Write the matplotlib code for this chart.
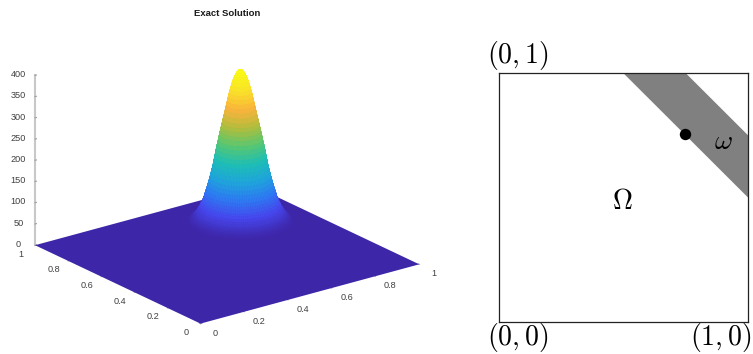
import numpy as np
import matplotlib
matplotlib.use('Agg')
import matplotlib.pyplot as plt
from matplotlib.colors import LinearSegmentedColormap
from matplotlib.patches import Polygon

W, H = 753, 354

# bump profile (distance from the peak, height)
PEAK_X = 0.75
PEAK_Y = 0.75
RADIUS = [0.0, 0.004, 0.008, 0.012, 0.016, 0.020, 0.024, 0.028, 0.032, 0.036, 0.040, 0.044, 0.047, 0.051,
          0.054, 0.058, 0.062, 0.066, 0.069, 0.073, 0.076, 0.080, 0.083, 0.087, 0.090, 0.093, 0.096, 0.099,
          0.102, 0.106, 0.110, 0.114, 0.118, 0.122, 0.126, 0.130, 0.133, 0.137, 0.141, 0.146, 0.150, 0.155,
          0.160, 0.165, 0.170, 0.175, 0.180, 0.185, 0.190]
HEIGHT = [355, 354, 353, 350, 346, 341, 335, 329, 321, 312, 303, 294, 284, 274,
          265, 254, 243, 233, 224, 214, 205, 194, 184, 174, 164, 154, 145, 135,
          126, 116, 106, 96, 87, 78, 70, 62, 55, 48, 42, 36, 30, 25,
          20, 16, 12, 9, 6, 3, 0]

TICKS_XY = [0, 0.2, 0.4, 0.6, 0.8, 1]
TICK_LABELS_XY = ['0', '0.2', '0.4', '0.6', '0.8', '1']
TICKS_Z = [0, 50, 100, 150, 200, 250, 300, 350, 400]

# parula colours, low to high
PARULA = ['#3e26a8', '#4748f0', '#2d7cf4', '#1ea8d9', '#1ec0b4', '#5cc86e',
          '#b4bd3c', '#fbb43c', '#f9e22a', '#f9fb15']

# right hand panel
BAND_X = [0.5, 0.75, 1, 1]
BAND_Y = [1, 1, 0.75, 0.5]
DOT_X = 0.747
DOT_Y = 0.755


def main():
    plt.rcParams['font.family'] = ['Liberation Sans', 'DejaVu Sans']
    plt.rcParams['mathtext.fontset'] = 'cm'
    fig = plt.figure(figsize=(W / 100, H / 100), dpi=100)
    parula = LinearSegmentedColormap.from_list('parula', PARULA)

    # ---------------- surface ----------------
    ax = fig.add_axes([-0.0578, -0.245, 0.70, 1.49], projection='3d')
    ax.set_proj_type('ortho')
    ax.view_init(elev=21, azim=-127.1)
    ax.set_box_aspect((1, 1, 0.663), zoom=0.789)
    ax.computed_zorder = False
    ax.patch.set_alpha(0)

    ax.plot_surface(np.array([[0, 1], [0, 1]]), np.array([[0, 0], [1, 1]]), np.zeros((2, 2)),
                    color=PARULA[0], shade=False, linewidth=0, zorder=1)

    theta = np.linspace(0, 2 * np.pi, 121)
    r, t = np.meshgrid(RADIUS, theta)
    z = np.tile(HEIGHT, (len(theta), 1))
    ax.plot_surface(PEAK_X + r * np.cos(t), PEAK_Y + r * np.sin(t), z, facecolors=parula(z / 355),
                    rstride=1, cstride=1, shade=False, linewidth=0.3, zorder=2)

    ax.set_xlim(0, 1)
    ax.set_ylim(0, 1)
    ax.set_zlim(0, 400)
    ax.set_xticks(TICKS_XY)
    ax.set_yticks(TICKS_XY)
    ax.set_zticks(TICKS_Z)
    ax.grid(False)
    for axis in (ax.xaxis, ax.yaxis, ax.zaxis):
        axis.set_pane_color((1, 1, 1, 0))
        axis.pane.set_edgecolor((1, 1, 1, 0))
        axis._axinfo['tick']['inward_factor'] = 0
        axis._axinfo['tick']['outward_factor'] = 0.08
    ax.xaxis.line.set_color((1, 1, 1, 0))
    ax.yaxis.line.set_color((1, 1, 1, 0))
    ax.zaxis.line.set_color('#c8c8c8')
    ax.zaxis.line.set_linewidth(1.5)
    ax.tick_params(color='#a0a0a0', width=0.5)
    ax.tick_params(axis='x', labelbottom=False)
    ax.tick_params(axis='y', labelleft=False)
    ax.tick_params(axis='z', labelsize=6.6, labelcolor='#404040', pad=0.5)
    for lab in ax.zaxis.get_ticklabels():
        lab.set_va('center')

    # the floor labels sit further out along the other axis than tick labels can go
    for val, lab in zip(TICKS_XY, TICK_LABELS_XY):
        ax.text(val, -0.09, -6, lab, fontsize=6.6, color='#404040', ha='center', va='center')
        ax.text(-0.065, val, -12, lab, fontsize=6.6, color='#404040', ha='center', va='center')

    fig.text(227 / W, 1 - 13 / H, 'Exact Solution', fontsize=6.8, fontweight='bold',
             ha='center', va='center', color='#1a1a1a')

    # ---------------- domain sketch ----------------
    left, right, top, bottom = 498.7, 748.3, 73.3, 322.3
    dom = fig.add_axes([left / W, 1 - bottom / H, (right - left) / W, (bottom - top) / H])
    dom.set_xlim(0, 1)
    dom.set_ylim(0, 1)
    dom.set_xticks([])
    dom.set_yticks([])
    for spine in dom.spines.values():
        spine.set_linewidth(0.9)
        spine.set_color('#222222')
    dom.add_patch(Polygon(np.column_stack([BAND_X, BAND_Y]), color='#808080', lw=0))
    dom.plot([DOT_X], [DOT_Y], 'o', color='black', ms=8.2, mew=0)

    fig.text(518 / W, 1 - 55 / H, r'$(0,1)$', fontsize=20, ha='center', va='center')
    fig.text(518 / W, 1 - 338 / H, r'$(0,0)$', fontsize=20, ha='center', va='center')
    fig.text(721 / W, 1 - 338 / H, r'$(1,0)$', fontsize=20, ha='center', va='center')
    fig.text(622 / W, 1 - 202 / H, r'$\Omega$', fontsize=20, ha='center', va='center')
    fig.text(723 / W, 1 - 142 / H, r'$\omega$', fontsize=20, ha='center', va='center')

    fig.savefig('out.png', dpi=100)


if __name__ == "__main__":
    main()
